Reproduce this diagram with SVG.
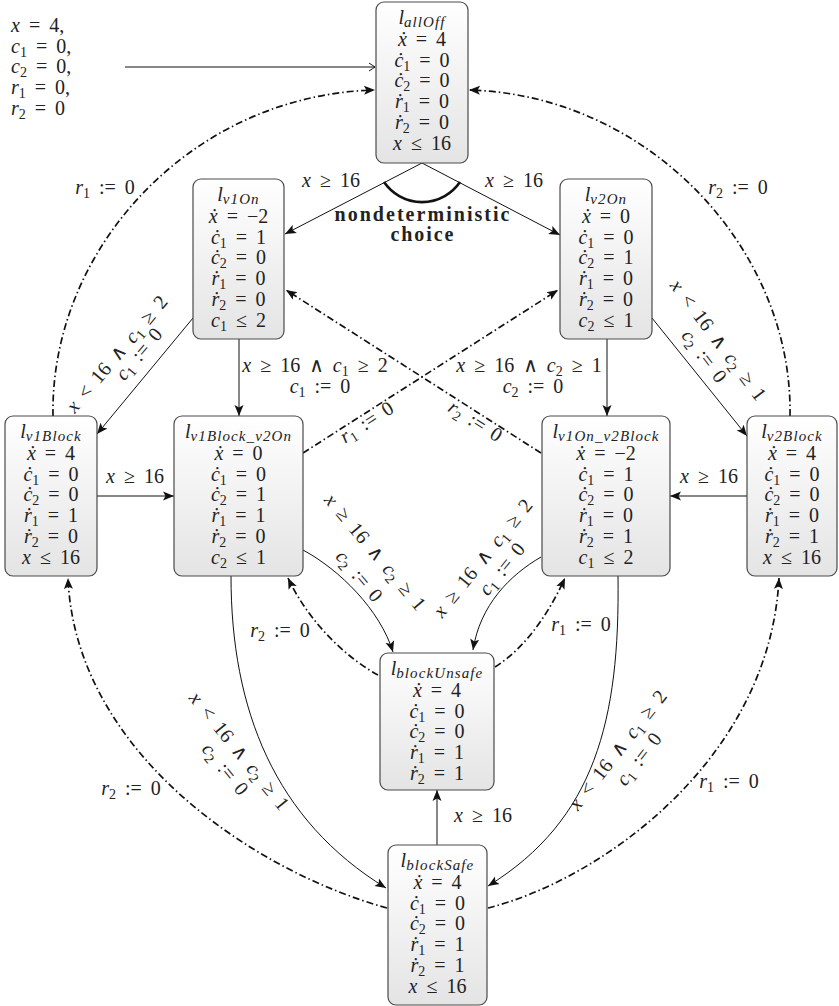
<svg xmlns="http://www.w3.org/2000/svg" width="839" height="1006" viewBox="0 0 839 1006">
<defs>
<linearGradient id="g" x1="0" y1="0" x2="0" y2="1"><stop offset="0" stop-color="#ffffff"/><stop offset="1" stop-color="#e4e4e4"/></linearGradient>
<marker id="ah" markerUnits="userSpaceOnUse" markerWidth="12" markerHeight="10" viewBox="0 -5 12 10" refX="11" refY="0" orient="auto"><path d="M0,-4.5 L11,0 L0,4.5 L2.5,0 z" fill="#111"/></marker>
<marker id="oa" markerUnits="userSpaceOnUse" markerWidth="9" markerHeight="10" viewBox="-8 -5 9 10" refX="0" refY="0" orient="auto"><path d="M-6,-4 Q-1.5,-1 0,0 Q-1.5,1 -6,4" fill="none" stroke="#111" stroke-width="1"/></marker>
<style>
.box{fill:url(#g);stroke:#4a4a4a;stroke-width:1.2}
.t{font-family:"Liberation Serif","DejaVu Serif",serif;font-size:20px;fill:#222;text-anchor:middle;word-spacing:4px}
.l{text-anchor:start}
.i{font-style:italic}
.s{font-size:14px}
.sl{font-size:15px;font-style:italic;letter-spacing:1.1px}
.b{font-weight:bold;font-size:20px;word-spacing:0}
.e{fill:none;stroke:#111;stroke-width:1}
.ea{fill:none;stroke:#111;stroke-width:1;marker-end:url(#ah)}
.dd{fill:none;stroke:#111;stroke-width:1.7;stroke-dasharray:7 3 1.5 3;marker-end:url(#ah)}
</style>
</defs>

<g id="init">
<text class="t l" x="11" y="32"><tspan class="i">x</tspan> = 4,</text>
<text class="t l" x="11" y="53"><tspan class="i">c</tspan><tspan class="s" dy="4">1</tspan><tspan dy="-4"> = 0,</tspan></text>
<text class="t l" x="11" y="73"><tspan class="i">c</tspan><tspan class="s" dy="4">2</tspan><tspan dy="-4"> = 0,</tspan></text>
<text class="t l" x="11" y="94"><tspan class="i">r</tspan><tspan class="s" dy="4">1</tspan><tspan dy="-4"> = 0,</tspan></text>
<text class="t l" x="11" y="115"><tspan class="i">r</tspan><tspan class="s" dy="4">2</tspan><tspan dy="-4"> = 0</tspan></text>
</g>

<g id="connectors">
<path d="M125,67 H375" class="e" marker-end="url(#oa)"/>
<path d="M422,163 L285,234" class="ea"/>
<path d="M422,163 L560,235" class="ea"/>
<path d="M384,182 A46,46 0 0 0 460,182" fill="none" stroke="#111" stroke-width="2.6"/>
<path d="M193,318 L97,434" class="ea"/>
<path d="M239,339 V416" class="ea"/>
<path d="M607,339 V416" class="ea"/>
<path d="M652,318 L747,436" class="ea"/>
<path d="M97,496 H174" class="ea"/>
<path d="M747,496 H670" class="ea"/>
<path d="M303,453 L558,290" class="dd"/>
<path d="M541,453 L286,290" class="dd"/>
<path d="M303,550 C340,570 380,610 393,652" class="ea"/>
<path d="M541,557 C510,575 480,605 473,650" class="ea"/>
<path d="M378,675 C350,660 310,625 288,578" class="dd"/>
<path d="M495,667 C525,648 548,615 565,578" class="dd"/>
<path d="M231,576 C231,710 275,820 386,888" class="ea"/>
<path d="M618,576 C620,720 595,820 488,886" class="ea"/>
<path d="M437,845 V790" class="ea"/>
<path d="M53,416 C50,250 190,95 375,90" class="dd"/>
<path d="M790,416 C793,250 650,95 469,90" class="dd"/>
<path d="M387,908 C250,870 75,750 68,578" class="dd"/>
<path d="M488,908 C600,880 770,760 779,578" class="dd"/>
</g>

<g id="labels">
<text class="t" x="331" y="187"><tspan class="i">x</tspan> ≥ 16</text>
<text class="t" x="514" y="187"><tspan class="i">x</tspan> ≥ 16</text>
<text class="t b" x="422" y="221" textLength="175" lengthAdjust="spacing">nondeterministic</text>
<text class="t b" x="422" y="241" textLength="63" lengthAdjust="spacing">choice</text>
<text class="t" x="315" y="372"><tspan class="i">x</tspan> ≥ 16 ∧ <tspan class="i">c</tspan><tspan class="s" dy="4">1</tspan><tspan dy="-4"> ≥ 2</tspan></text>
<text class="t" x="320" y="393"><tspan class="i">c</tspan><tspan class="s" dy="4">1</tspan><tspan dy="-4"> := 0</tspan></text>
<text class="t" x="529" y="372"><tspan class="i">x</tspan> ≥ 16 ∧ <tspan class="i">c</tspan><tspan class="s" dy="4">2</tspan><tspan dy="-4"> ≥ 1</tspan></text>
<text class="t" x="533" y="393"><tspan class="i">c</tspan><tspan class="s" dy="4">2</tspan><tspan dy="-4"> := 0</tspan></text>
<text class="t" x="135" y="483"><tspan class="i">x</tspan> ≥ 16</text>
<text class="t" x="709" y="483"><tspan class="i">x</tspan> ≥ 16</text>
<text class="t" x="280" y="637"><tspan class="i">r</tspan><tspan class="s" dy="4">2</tspan><tspan dy="-4"> := 0</tspan></text>
<text class="t" x="581" y="631"><tspan class="i">r</tspan><tspan class="s" dy="4">1</tspan><tspan dy="-4"> := 0</tspan></text>
<text class="t" x="483" y="822"><tspan class="i">x</tspan> ≥ 16</text>
<text class="t" x="105" y="194"><tspan class="i">r</tspan><tspan class="s" dy="4">1</tspan><tspan dy="-4"> := 0</tspan></text>
<text class="t" x="738" y="194"><tspan class="i">r</tspan><tspan class="s" dy="4">2</tspan><tspan dy="-4"> := 0</tspan></text>
<text class="t" x="131" y="795"><tspan class="i">r</tspan><tspan class="s" dy="4">2</tspan><tspan dy="-4"> := 0</tspan></text>
<text class="t" x="729" y="788"><tspan class="i">r</tspan><tspan class="s" dy="4">1</tspan><tspan dy="-4"> := 0</tspan></text>
<text class="t" transform="translate(362,415) rotate(-32.6)" y="15"><tspan class="i">r</tspan><tspan class="s" dy="4">1</tspan><tspan dy="-4"> := 0</tspan></text>
<text class="t" transform="translate(480,414) rotate(32.6)" y="15"><tspan class="i">r</tspan><tspan class="s" dy="4">2</tspan><tspan dy="-4"> := 0</tspan></text>
<text class="t" transform="translate(118,355) rotate(-50)" y="5"><tspan class="i">x</tspan> &lt; 16 ∧ <tspan class="i">c</tspan><tspan class="s" dy="4">1</tspan><tspan dy="-4"> ≥ 2</tspan></text>
<text class="t" transform="translate(140,355) rotate(-50)" y="5"><tspan class="i">c</tspan><tspan class="s" dy="4">1</tspan><tspan dy="-4"> := 0</tspan></text>
<text class="t" transform="translate(717,341) rotate(53)" y="5"><tspan class="i">x</tspan> &lt; 16 ∧ <tspan class="i">c</tspan><tspan class="s" dy="4">2</tspan><tspan dy="-4"> ≥ 1</tspan></text>
<text class="t" transform="translate(703,357) rotate(53)" y="5"><tspan class="i">c</tspan><tspan class="s" dy="4">2</tspan><tspan dy="-4"> := 0</tspan></text>
<text class="t" transform="translate(374,553) rotate(50)" y="5"><tspan class="i">x</tspan> ≥ 16 ∧ <tspan class="i">c</tspan><tspan class="s" dy="4">2</tspan><tspan dy="-4"> ≥ 1</tspan></text>
<text class="t" transform="translate(358,577) rotate(50)" y="5"><tspan class="i">c</tspan><tspan class="s" dy="4">2</tspan><tspan dy="-4"> := 0</tspan></text>
<text class="t" transform="translate(484,559) rotate(-51)" y="5"><tspan class="i">x</tspan> ≥ 16 ∧ <tspan class="i">c</tspan><tspan class="s" dy="4">1</tspan><tspan dy="-4"> ≥ 2</tspan></text>
<text class="t" transform="translate(503,570) rotate(-51)" y="5"><tspan class="i">c</tspan><tspan class="s" dy="4">1</tspan><tspan dy="-4"> := 0</tspan></text>
<text class="t" transform="translate(238,752) rotate(51)" y="5"><tspan class="i">x</tspan> &lt; 16 ∧ <tspan class="i">c</tspan><tspan class="s" dy="4">2</tspan><tspan dy="-4"> ≥ 1</tspan></text>
<text class="t" transform="translate(224,770) rotate(51)" y="5"><tspan class="i">c</tspan><tspan class="s" dy="4">2</tspan><tspan dy="-4"> := 0</tspan></text>
<text class="t" transform="translate(619,751) rotate(-52)" y="5"><tspan class="i">x</tspan> &lt; 16 ∧ <tspan class="i">c</tspan><tspan class="s" dy="4">1</tspan><tspan dy="-4"> ≥ 2</tspan></text>
<text class="t" transform="translate(640,760) rotate(-52)" y="5"><tspan class="i">c</tspan><tspan class="s" dy="4">1</tspan><tspan dy="-4"> := 0</tspan></text>
</g>

<g id="allOff">
<rect class="box" x="376" y="2" width="92" height="161" rx="8"/>
<text class="t" x="422" y="24"><tspan class="i">l</tspan><tspan class="sl" dy="3">allOff</tspan></text>
<text class="t" x="422" y="46"><tspan class="i">ẋ</tspan> = 4</text>
<text class="t" x="422" y="67"><tspan class="i">ċ</tspan><tspan class="s" dy="4">1</tspan><tspan dy="-4"> = 0</tspan></text>
<text class="t" x="422" y="87"><tspan class="i">ċ</tspan><tspan class="s" dy="4">2</tspan><tspan dy="-4"> = 0</tspan></text>
<text class="t" x="422" y="108"><tspan class="i">ṙ</tspan><tspan class="s" dy="4">1</tspan><tspan dy="-4"> = 0</tspan></text>
<text class="t" x="422" y="129"><tspan class="i">ṙ</tspan><tspan class="s" dy="4">2</tspan><tspan dy="-4"> = 0</tspan></text>
<text class="t" x="422" y="150"><tspan class="i">x</tspan> ≤ 16</text>
</g>

<g id="v1On">
<rect class="box" x="193" y="179" width="91" height="160" rx="8"/>
<text class="t" x="238.5" y="201"><tspan class="i">l</tspan><tspan class="sl" dy="3">v1On</tspan></text>
<text class="t" x="238.5" y="223"><tspan class="i">ẋ</tspan> = −2</text>
<text class="t" x="238.5" y="244"><tspan class="i">ċ</tspan><tspan class="s" dy="4">1</tspan><tspan dy="-4"> = 1</tspan></text>
<text class="t" x="238.5" y="264"><tspan class="i">ċ</tspan><tspan class="s" dy="4">2</tspan><tspan dy="-4"> = 0</tspan></text>
<text class="t" x="238.5" y="285"><tspan class="i">ṙ</tspan><tspan class="s" dy="4">1</tspan><tspan dy="-4"> = 0</tspan></text>
<text class="t" x="238.5" y="306"><tspan class="i">ṙ</tspan><tspan class="s" dy="4">2</tspan><tspan dy="-4"> = 0</tspan></text>
<text class="t" x="238.5" y="327"><tspan class="i">c</tspan><tspan class="s" dy="4">1</tspan><tspan dy="-4"> ≤ 2</tspan></text>
</g>

<g id="v2On">
<rect class="box" x="560" y="179" width="92" height="160" rx="8"/>
<text class="t" x="606" y="201"><tspan class="i">l</tspan><tspan class="sl" dy="3">v2On</tspan></text>
<text class="t" x="606" y="223"><tspan class="i">ẋ</tspan> = 0</text>
<text class="t" x="606" y="244"><tspan class="i">ċ</tspan><tspan class="s" dy="4">1</tspan><tspan dy="-4"> = 0</tspan></text>
<text class="t" x="606" y="264"><tspan class="i">ċ</tspan><tspan class="s" dy="4">2</tspan><tspan dy="-4"> = 1</tspan></text>
<text class="t" x="606" y="285"><tspan class="i">ṙ</tspan><tspan class="s" dy="4">1</tspan><tspan dy="-4"> = 0</tspan></text>
<text class="t" x="606" y="306"><tspan class="i">ṙ</tspan><tspan class="s" dy="4">2</tspan><tspan dy="-4"> = 0</tspan></text>
<text class="t" x="606" y="327"><tspan class="i">c</tspan><tspan class="s" dy="4">2</tspan><tspan dy="-4"> ≤ 1</tspan></text>
</g>

<g id="v1Block">
<rect class="box" x="5" y="416" width="92" height="160" rx="8"/>
<text class="t" x="51" y="438"><tspan class="i">l</tspan><tspan class="sl" dy="3">v1Block</tspan></text>
<text class="t" x="51" y="460"><tspan class="i">ẋ</tspan> = 4</text>
<text class="t" x="51" y="481"><tspan class="i">ċ</tspan><tspan class="s" dy="4">1</tspan><tspan dy="-4"> = 0</tspan></text>
<text class="t" x="51" y="501"><tspan class="i">ċ</tspan><tspan class="s" dy="4">2</tspan><tspan dy="-4"> = 0</tspan></text>
<text class="t" x="51" y="522"><tspan class="i">ṙ</tspan><tspan class="s" dy="4">1</tspan><tspan dy="-4"> = 1</tspan></text>
<text class="t" x="51" y="543"><tspan class="i">ṙ</tspan><tspan class="s" dy="4">2</tspan><tspan dy="-4"> = 0</tspan></text>
<text class="t" x="51" y="564"><tspan class="i">x</tspan> ≤ 16</text>
</g>

<g id="v1Block_v2On">
<rect class="box" x="174" y="416" width="129" height="160" rx="8"/>
<text class="t" x="238.5" y="438"><tspan class="i">l</tspan><tspan class="sl" dy="3">v1Block_v2On</tspan></text>
<text class="t" x="238.5" y="460"><tspan class="i">ẋ</tspan> = 0</text>
<text class="t" x="238.5" y="481"><tspan class="i">ċ</tspan><tspan class="s" dy="4">1</tspan><tspan dy="-4"> = 0</tspan></text>
<text class="t" x="238.5" y="501"><tspan class="i">ċ</tspan><tspan class="s" dy="4">2</tspan><tspan dy="-4"> = 1</tspan></text>
<text class="t" x="238.5" y="522"><tspan class="i">ṙ</tspan><tspan class="s" dy="4">1</tspan><tspan dy="-4"> = 1</tspan></text>
<text class="t" x="238.5" y="543"><tspan class="i">ṙ</tspan><tspan class="s" dy="4">2</tspan><tspan dy="-4"> = 0</tspan></text>
<text class="t" x="238.5" y="564"><tspan class="i">c</tspan><tspan class="s" dy="4">2</tspan><tspan dy="-4"> ≤ 1</tspan></text>
</g>

<g id="v1On_v2Block">
<rect class="box" x="542" y="416" width="128" height="160" rx="8"/>
<text class="t" x="606" y="438"><tspan class="i">l</tspan><tspan class="sl" dy="3">v1On_v2Block</tspan></text>
<text class="t" x="606" y="460"><tspan class="i">ẋ</tspan> = −2</text>
<text class="t" x="606" y="481"><tspan class="i">ċ</tspan><tspan class="s" dy="4">1</tspan><tspan dy="-4"> = 1</tspan></text>
<text class="t" x="606" y="501"><tspan class="i">ċ</tspan><tspan class="s" dy="4">2</tspan><tspan dy="-4"> = 0</tspan></text>
<text class="t" x="606" y="522"><tspan class="i">ṙ</tspan><tspan class="s" dy="4">1</tspan><tspan dy="-4"> = 0</tspan></text>
<text class="t" x="606" y="543"><tspan class="i">ṙ</tspan><tspan class="s" dy="4">2</tspan><tspan dy="-4"> = 1</tspan></text>
<text class="t" x="606" y="564"><tspan class="i">c</tspan><tspan class="s" dy="4">1</tspan><tspan dy="-4"> ≤ 2</tspan></text>
</g>

<g id="v2Block">
<rect class="box" x="747" y="416" width="90" height="160" rx="8"/>
<text class="t" x="792" y="438"><tspan class="i">l</tspan><tspan class="sl" dy="3">v2Block</tspan></text>
<text class="t" x="792" y="460"><tspan class="i">ẋ</tspan> = 4</text>
<text class="t" x="792" y="481"><tspan class="i">ċ</tspan><tspan class="s" dy="4">1</tspan><tspan dy="-4"> = 0</tspan></text>
<text class="t" x="792" y="501"><tspan class="i">ċ</tspan><tspan class="s" dy="4">2</tspan><tspan dy="-4"> = 0</tspan></text>
<text class="t" x="792" y="522"><tspan class="i">ṙ</tspan><tspan class="s" dy="4">1</tspan><tspan dy="-4"> = 0</tspan></text>
<text class="t" x="792" y="543"><tspan class="i">ṙ</tspan><tspan class="s" dy="4">2</tspan><tspan dy="-4"> = 1</tspan></text>
<text class="t" x="792" y="564"><tspan class="i">x</tspan> ≤ 16</text>
</g>

<g id="blockUnsafe">
<rect class="box" x="380" y="653" width="114" height="137" rx="8"/>
<text class="t" x="437" y="675"><tspan class="i">l</tspan><tspan class="sl" dy="3">blockUnsafe</tspan></text>
<text class="t" x="437" y="697"><tspan class="i">ẋ</tspan> = 4</text>
<text class="t" x="437" y="718"><tspan class="i">ċ</tspan><tspan class="s" dy="4">1</tspan><tspan dy="-4"> = 0</tspan></text>
<text class="t" x="437" y="738"><tspan class="i">ċ</tspan><tspan class="s" dy="4">2</tspan><tspan dy="-4"> = 0</tspan></text>
<text class="t" x="437" y="759"><tspan class="i">ṙ</tspan><tspan class="s" dy="4">1</tspan><tspan dy="-4"> = 1</tspan></text>
<text class="t" x="437" y="780"><tspan class="i">ṙ</tspan><tspan class="s" dy="4">2</tspan><tspan dy="-4"> = 1</tspan></text>
</g>

<g id="blockSafe">
<rect class="box" x="388" y="845" width="99" height="160" rx="8"/>
<text class="t" x="437.5" y="867"><tspan class="i">l</tspan><tspan class="sl" dy="3">blockSafe</tspan></text>
<text class="t" x="437.5" y="889"><tspan class="i">ẋ</tspan> = 4</text>
<text class="t" x="437.5" y="910"><tspan class="i">ċ</tspan><tspan class="s" dy="4">1</tspan><tspan dy="-4"> = 0</tspan></text>
<text class="t" x="437.5" y="930"><tspan class="i">ċ</tspan><tspan class="s" dy="4">2</tspan><tspan dy="-4"> = 0</tspan></text>
<text class="t" x="437.5" y="951"><tspan class="i">ṙ</tspan><tspan class="s" dy="4">1</tspan><tspan dy="-4"> = 1</tspan></text>
<text class="t" x="437.5" y="972"><tspan class="i">ṙ</tspan><tspan class="s" dy="4">2</tspan><tspan dy="-4"> = 1</tspan></text>
<text class="t" x="437.5" y="993"><tspan class="i">x</tspan> ≤ 16</text>
</g>
</svg>
